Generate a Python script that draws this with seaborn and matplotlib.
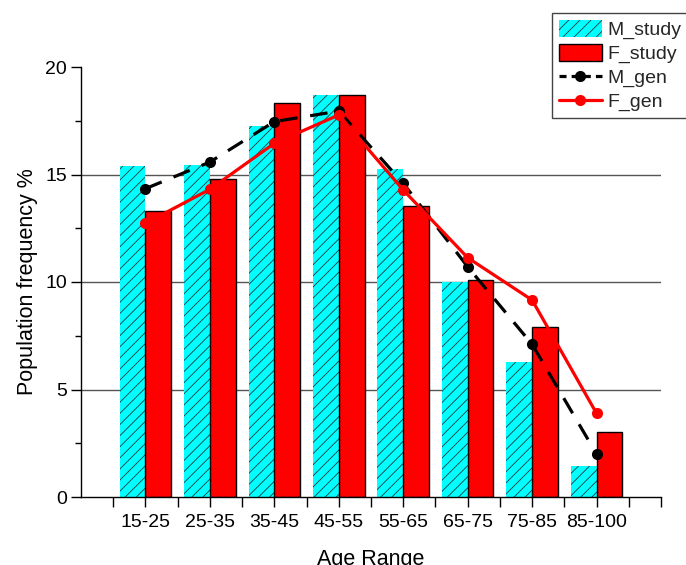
import numpy as np
import pandas as pd
import matplotlib
matplotlib.use("Agg")
import matplotlib.pyplot as plt
import seaborn as sns
from matplotlib.patches import Patch
from matplotlib.lines import Line2D

sns.set_theme(style="ticks")
plt.rcParams["font.family"] = ["Liberation Sans", "DejaVu Sans"]
plt.rcParams["hatch.linewidth"] = 0.6

age_ranges = ["15-25", "25-35", "35-45", "45-55", "55-65", "65-75", "75-85", "85-100"]
m_study = [15.4, 15.45, 17.26, 18.68, 15.26, 10.0, 6.3, 1.46]
f_study = [13.32, 14.79, 18.31, 18.71, 13.53, 10.08, 7.92, 3.01]
m_gen = [14.34, 15.58, 17.46, 17.95, 14.59, 10.71, 7.1, 2.0]
f_gen = [12.73, 14.31, 16.45, 17.77, 14.28, 11.13, 9.16, 3.89]

bars = pd.DataFrame({
    "age": age_ranges * 2,
    "freq": m_study + f_study,
    "group": ["M_study"] * len(age_ranges) + ["F_study"] * len(age_ranges),
})

fig = plt.figure(figsize=(6.86, 5.65), dpi=100)
ax = fig.add_axes([81 / 686, 68 / 565, 580 / 686, 430 / 565])

# grid lines behind everything
for yv in [5, 10, 15]:
    ax.axhline(yv, color="#555555", lw=1.0, zorder=0)

sns.barplot(data=bars, x="age", y="freq", hue="group", order=age_ranges,
            hue_order=["M_study", "F_study"], palette=["#00ffff", "#ff0000"],
            width=0.8, saturation=1, errorbar=None, legend=False, ax=ax, zorder=2)

n = len(age_ranges)
for i, p in enumerate(ax.patches[:2 * n]):
    if i < n:
        p.set_hatch("///")
        p.set_edgecolor("#1a3a3a")
        p.set_linewidth(0)
    else:
        p.set_edgecolor("black")
        p.set_linewidth(1.0)

xs = np.arange(n)
sns.lineplot(x=xs, y=m_gen, color="black", lw=2.3, linestyle=(0, (5.5, 4)),
             marker="o", markersize=8, markeredgewidth=0, sort=False, ax=ax, zorder=4)
sns.lineplot(x=xs, y=f_gen, color="#ff0000", lw=2.3, marker="o", markersize=8,
             markeredgewidth=0, sort=False, ax=ax, zorder=4)

ax.set_xlim(-1, 8)
ax.set_ylim(0, 20)
ticks = np.arange(-0.5, 8.01, 0.5)
ax.set_xticks(ticks)
ax.set_xticklabels([age_ranges[int(t)] if float(t).is_integer() and 0 <= t < n else ""
                    for t in ticks])
ax.set_yticks([0, 5, 10, 15, 20])
ax.set_yticks(np.arange(2.5, 20, 5), minor=True)
ax.tick_params(axis="both", which="major", labelsize=14, color="black",
               length=7, width=1.0, direction="out", labelcolor="black")
ax.tick_params(axis="y", which="minor", length=4, width=1.0, color="black")
ax.tick_params(axis="x", pad=5)
ax.tick_params(axis="y", pad=3)

for s in ["top", "right"]:
    ax.spines[s].set_visible(False)
for s in ["left", "bottom"]:
    ax.spines[s].set_color("black")
    ax.spines[s].set_linewidth(1.0)

ax.set_xlabel("Age Range", fontsize=15.5, labelpad=13, color="black")
ax.set_ylabel("Population frequency %", fontsize=15.5, labelpad=5, color="black")

handles = [
    Patch(facecolor="#00ffff", edgecolor="#1a3a3a", hatch="///", linewidth=0),
    Patch(facecolor="#ff0000", edgecolor="black", linewidth=1.0),
    Line2D([], [], color="black", lw=2.3, linestyle=(0, (2.2, 1.6)), marker="o",
           markersize=8, markeredgewidth=0),
    Line2D([], [], color="#ff0000", lw=2.3, marker="o", markersize=8, markeredgewidth=0),
]
leg = fig.legend(handles, ["M_study", "F_study", "M_gen", "F_gen"],
                 loc="upper left", bbox_to_anchor=(552 / 686, 1 - 13 / 565),
                 bbox_transform=fig.transFigure, fontsize=14, frameon=True,
                 fancybox=False, edgecolor="#444444", framealpha=1,
                 handlelength=2.2, handleheight=0.95, handletextpad=0.3,
                 labelspacing=0.25, borderpad=0.35, borderaxespad=0)
leg.get_frame().set_linewidth(1.0)

fig.savefig("out.png", dpi=100)
